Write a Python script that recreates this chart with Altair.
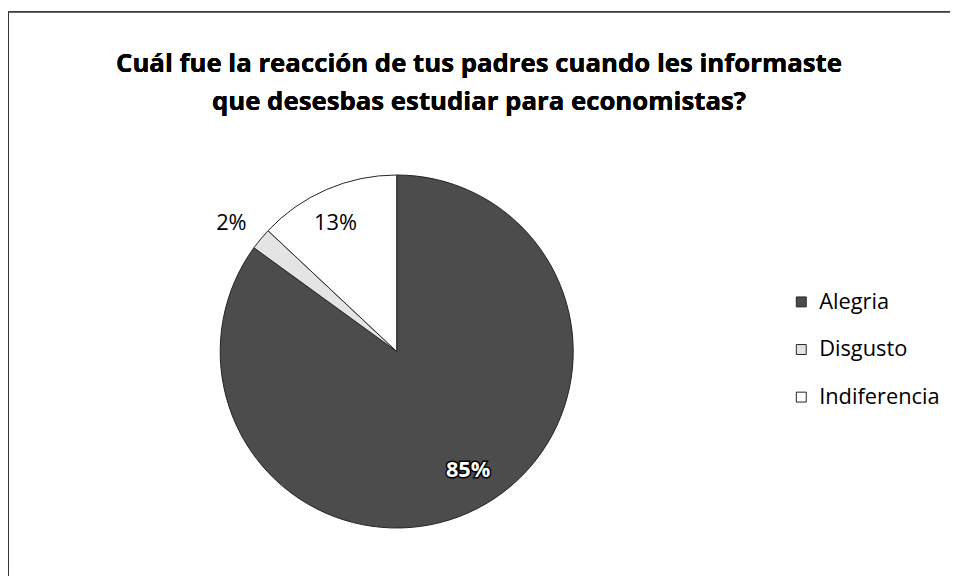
import altair as alt
import pandas as pd

categorias = ["Alegria", "Disgusto", "Indiferencia"]
valores = [85, 2, 13]
orden = [1, 2, 3]
colores = ["#4c4c4c", "#e4e4e4", "#ffffff"]

titulo = ["Cuál fue la reacción de tus padres cuando les informaste",
          "que desesbas estudiar para economistas?"]

df = pd.DataFrame({"categoria": categorias, "valor": valores, "orden": orden})

FONT = "Open Sans"
CX, CY, R = 392, 224, 178

base = alt.Chart(df).transform_calculate(
    etiqueta="format(datum.valor, 'd') + '%'"
).encode(
    theta=alt.Theta("valor:Q", stack=True),
    order=alt.Order("orden:Q"),
)

color_scale = alt.Scale(domain=categorias, range=colores)

pie = base.mark_arc(radius=R, stroke="#222222", strokeWidth=1).encode(
    x=alt.value(CX), y=alt.value(CY),
    color=alt.Color("categoria:N", scale=color_scale, sort=categorias,
                    legend=alt.Legend(
                        title=None, orient="none", legendX=789, legendY=163,
                        symbolType="square", symbolSize=100,
                        symbolStrokeColor="#222222", symbolStrokeWidth=1,
                        labelFont=FONT, labelFontSize=22, labelColor="black",
                        labelOffset=7, rowPadding=26,
                    )),
)

def etiqueta(cat, radius, dx=0, dy=0, size=22, **kw):
    return base.mark_text(radius=radius, dx=dx, dy=dy, font=FONT,
                          fontSize=size, **kw).encode(
        x=alt.value(CX), y=alt.value(CY),
        text=alt.condition(f"datum.categoria == '{cat}'", "etiqueta:N", alt.value("")),
    )

t_dis = etiqueta("Disgusto", 206, dx=-8, dy=2, color="black")
t_ind = etiqueta("Indiferencia", 148, dx=-3, dy=6, color="black")
t_ale_b = etiqueta("Alegria", 161, dx=-1, dy=-24, color="black",
                   stroke="black", strokeWidth=3, fontWeight="bold")
t_ale_w = etiqueta("Alegria", 161, dx=-1, dy=-24, color="white",
                   fontWeight="bold")

def linea_titulo(texto, y):
    return alt.Chart(df).mark_text(font=FONT, fontSize=26, fontWeight="bold",
                                   color="black", align="center",
                                   baseline="middle").encode(
        x=alt.value(475), y=alt.value(y), text=alt.value(texto))

tit1 = linea_titulo(titulo[0], 62 - 128)
tit2 = linea_titulo(titulo[1], 100 - 128)

marco_sup = alt.Chart(df).mark_rule(color="#333333", strokeWidth=1).encode(
    x=alt.value(0.5), x2=alt.value(950), y=alt.value(-118.5))
marco_izq = alt.Chart(df).mark_rule(color="#333333", strokeWidth=1).encode(
    x=alt.value(0.5), y=alt.value(-118.5), y2=alt.value(450))

chart = alt.layer(marco_sup, marco_izq, tit1, tit2, pie, t_dis, t_ind,
                  t_ale_b, t_ale_w).properties(
    width=944, height=448,
    autosize=alt.AutoSizeParams(type="none"),
    padding={"left": 0, "top": 120, "right": 8, "bottom": 0},
).configure(background="white").configure_view(strokeWidth=0, stroke="transparent")

chart.save("out.html", embed_options={"renderer": "svg", "actions": False})
